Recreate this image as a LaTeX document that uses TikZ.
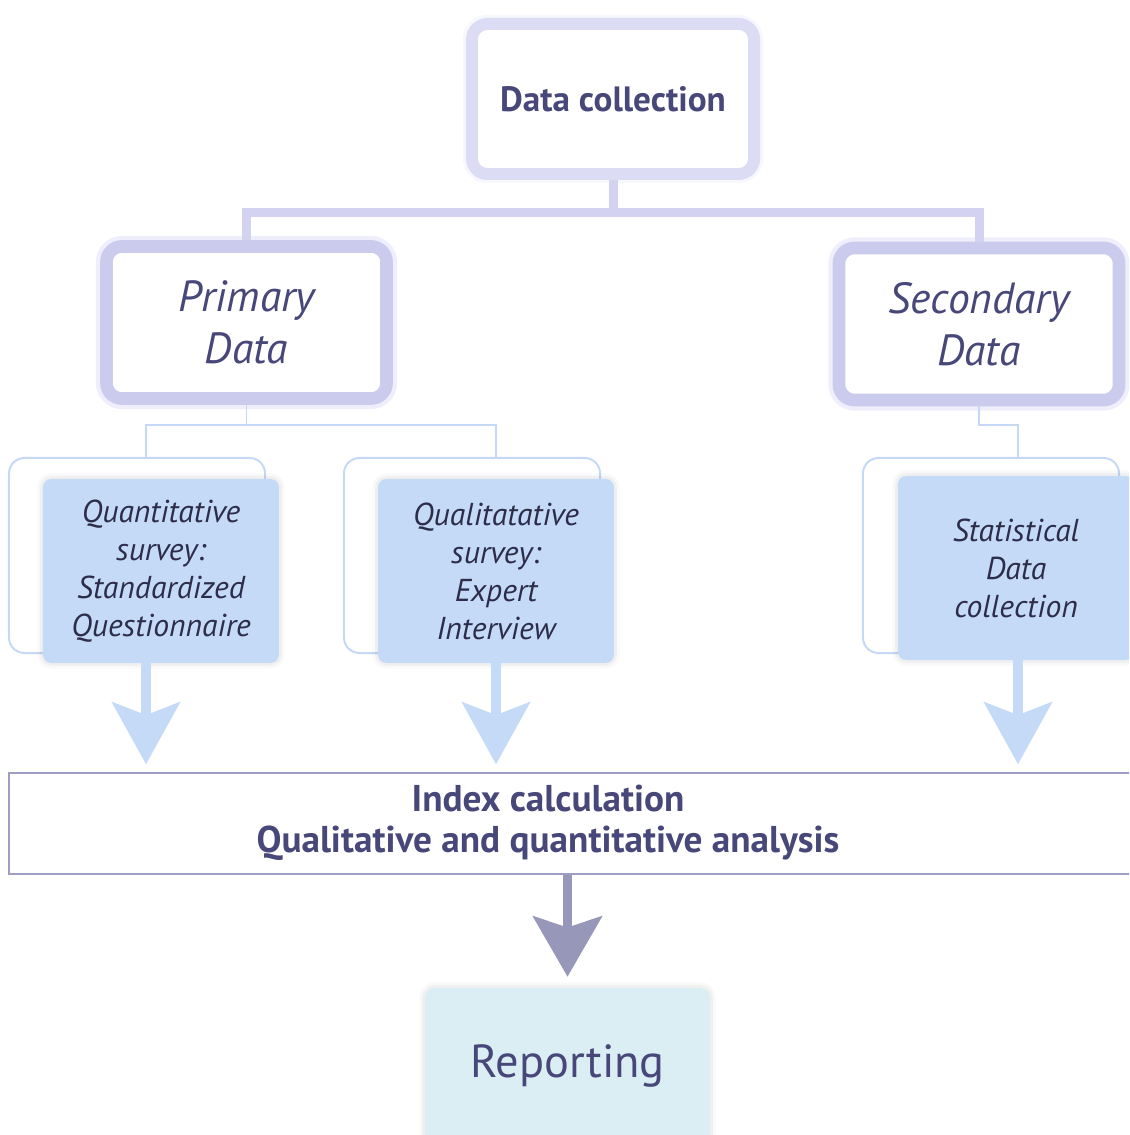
\documentclass[tikz,border=0pt]{standalone}
\usepackage{fontspec}
\setmainfont{PT Sans}
\usetikzlibrary{arrows.meta}

\definecolor{textc}{HTML}{47477A}
\definecolor{methtext}{HTML}{2D2D4A}
\definecolor{lavline}{HTML}{DCDCF5}
\definecolor{databorder}{HTML}{CBCBEE}
\definecolor{busc}{HTML}{D3D3F1}
\definecolor{linkc}{HTML}{C5D9F6}
\definecolor{methfill}{HTML}{C4DAF7}
\definecolor{indexline}{HTML}{9E9EC4}
\definecolor{darkarrowc}{HTML}{9797B9}
\definecolor{repfill}{HTML}{DBEEF4}

\begin{document}
\begin{tikzpicture}[x=0.025cm,y=-0.025cm,
    topbox/.style={draw=lavline, line width=8.5pt, rounded corners=11pt, fill=white,
      inner sep=0pt, minimum width=7.05cm, minimum height=3.75cm, align=center, text=textc,
      preaction={draw=lavline!80!blue!40, line width=13pt, opacity=.25},
      font=\fontsize{25}{30}\selectfont\bfseries},
    databox/.style={draw=databorder, line width=9pt, rounded corners=11pt, fill=white,
      inner sep=0pt, minimum width=7cm, minimum height=3.8cm, align=center, text=textc,
      preaction={draw=databorder!80!blue!60, line width=15pt, opacity=.3},
      font=\fontsize{31}{37}\selectfont\itshape},
    backbox/.style={draw=linkc, line width=1.4pt, rounded corners=11pt, fill=white,
      minimum width=6.4cm, minimum height=4.875cm},
    halo/.style={preaction={draw=black, line width=8pt, opacity=.025},
      preaction={draw=black, line width=4pt, opacity=.035}},
    methbox/.style={fill=methfill, rounded corners=6pt, inner sep=0pt, halo,
      minimum width=5.9cm, minimum height=4.6cm, align=center, text=methtext,
      font=\fontsize{22.5}{27}\selectfont\itshape},
    indexbox/.style={draw=indexline, line width=1.4pt, fill=white,
      minimum width=28.275cm, minimum height=2.525cm},
    indextext/.style={align=center, text=textc, font=\fontsize{26.5}{29}\selectfont\bfseries},
    repbox/.style={fill=repfill, rounded corners=7pt, minimum width=7.125cm, minimum height=3.9cm,
      text=textc, halo, font=\fontsize{33}{38}\selectfont},
    bus/.style={draw=busc, line width=6.4pt},
    link/.style={draw=linkc, line width=1.4pt},
    lightarrow/.style={draw=methfill, line width=7pt, -{Stealth[length=44pt, width=48pt, inset=9pt]}, shorten >=5.5pt},
    darkarrow/.style={draw=darkarrowc, line width=6pt, -{Stealth[length=43pt, width=49pt, inset=8pt]}, shorten >=7.8pt}]
  \useasboundingbox (0,0) rectangle (1129,1135);
  \clip (0,0) rectangle (1129,1135);
  % top of the tree
  \node[topbox] (dc) at (613,99) {Data collection};
  \node[databox] (prim) at (246.5,322.5) {Primary\\Data};
  \node[databox] (sec) at (979,324) {Secondary\\Data};
  \coordinate (busy) at (0,213);
  \draw[bus] (dc.south) -- (dc.south |- busy);
  \draw[bus] (prim.north) |- (dc.south |- busy) -| (sec.north);
  % survey boxes
  \node[backbox] (quantback) at (137,555.5) {};
  \node[backbox] (qualback) at (472,555.5) {};
  \node[backbox] (statback) at (991,555.5) {};
  \node[methbox] (quant) at (161,571) {Quantitative\\survey:\\Standardized\\Questionnaire};
  \node[methbox] (qual) at (496,571) {Qualitatative\\survey:\\Expert\\Interview};
  \node[methbox] (stat) at (1016,568) {Statistical\\Data\\collection};
  \coordinate (quantin) at (146,0);
  \coordinate (qualin) at (496,0);
  \coordinate (statin) at (1018,0);
  \coordinate (linky) at (0,425);
  \draw[link] (quantback.north -| quantin) |- (prim.south |- linky) -| (qualback.north -| qualin);
  \draw[link] (prim.south) -- (prim.south |- linky);
  \draw[link] (sec.south) |- (statin |- linky) -- (statback.north -| statin);
  % analysis and reporting
  \node[indexbox] (index) at (574.5,823.5) {};
  \node[indextext] (indexlbl) at (548,823) {Index calculation\\Qualitative and quantitative analysis};
  \node[repbox] (rep) at (567.5,1066) {Reporting};
  \draw[lightarrow] (quant.south -| quantin) -- (index.north -| quantin);
  \draw[lightarrow] (qual.south -| qualin) -- (index.north -| qualin);
  \draw[lightarrow] (stat.south -| statin) -- (index.north -| statin);
  \draw[darkarrow] (index.south -| rep.north) -- (rep.north);
\end{tikzpicture}
\end{document}
